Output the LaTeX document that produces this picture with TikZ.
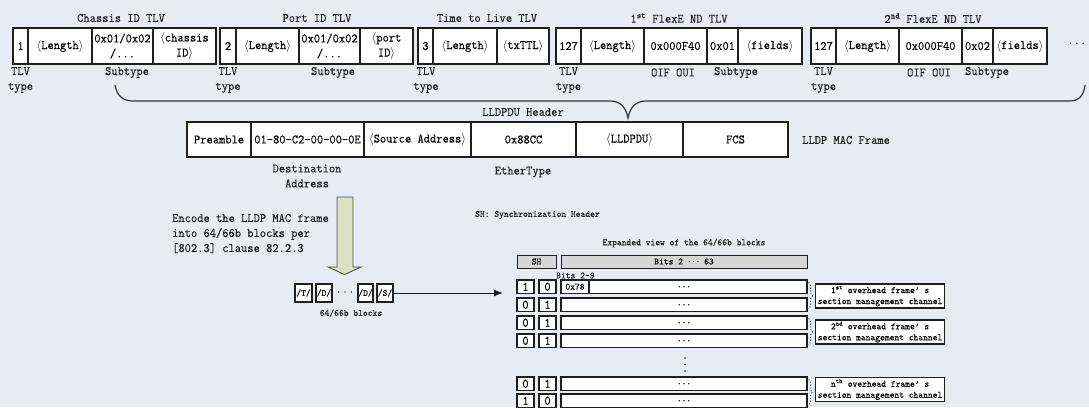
\documentclass[tikz,border=0pt]{standalone}
\usepackage{fontspec}
\setmainfont{Latin Modern Mono}[FakeStretch=0.95,FakeBold=0.25]
\usetikzlibrary{arrows.meta,decorations.pathreplacing}
\definecolor{bg}{RGB}{233,235,242}
\definecolor{ink}{RGB}{30,30,30}
\definecolor{hdr}{RGB}{214,214,214}
\definecolor{olivefill}{RGB}{221,225,196}
\newcommand\szmain{\fontsize{12.8}{15}\selectfont}
\newcommand\szsmall{\fontsize{9.6}{11}\selectfont}
\newcommand\ang[1]{$\langle$#1$\rangle$}
\begin{document}
\begin{tikzpicture}[x=1pt,y=-1pt,
  fld/.style={draw=ink,line width=1.1pt,fill=white,inner sep=0pt,minimum height=36pt,font=\szmain,align=center},
  lbl/.style={inner sep=0pt,font=\szmain,align=center,text=ink},
  slbl/.style={inner sep=0pt,font=\szsmall,align=center,text=ink},
  frm/.style={draw=ink,line width=1.1pt,fill=white,inner sep=0pt,minimum height=35pt,font=\szmain},
  blk/.style={draw=ink,line width=1.1pt,fill=white,inner sep=0pt,minimum height=18pt,font=\szsmall},
  hdrbox/.style={draw=ink,line width=1pt,fill=hdr,inner sep=0pt,minimum height=13pt,font=\szsmall},
  sbit/.style={draw=ink,line width=1.1pt,fill=white,inner sep=0pt,minimum width=17pt,minimum height=13.5pt,font=\szmain},
  body/.style={draw=ink,line width=1.1pt,fill=white,inner sep=0pt,minimum width=246pt,minimum height=13.5pt,font=\szsmall},
  note/.style={draw=ink,line width=1.1pt,fill=white,inner sep=0pt,minimum width=129pt,minimum height=24pt,font=\szsmall,align=center,anchor=west},
  dbrace/.style={draw=ink,dotted,line width=0.9pt,decorate,decoration={brace,amplitude=4pt}}
]
\fill[bg] (0,0) rectangle (1089,407);
\useasboundingbox (0,0) rectangle (1089,407);

% ---- LLDPDU: sequence of TLVs ----
\node[lbl] (tChassis) at (121,18) {Chassis ID TLV};
\node[fld,minimum width=15pt] (c1) at (20.5,46) {1};
\node[fld,minimum width=64pt] (c2) at (60,46) {\ang{Length}};
\node[fld,minimum width=61pt] (c3) at (122.5,46) {0x01/0x02\\/...};
\node[fld,minimum width=63pt] (c4) at (184.5,46) {\ang{chassis\\ID}};
\node[lbl] (c1l) at (20.5,80) {TLV\\type};
\node[lbl] (c3l) at (127,72.5) {Subtype};

\node[lbl] (tPort) at (317,18) {Port ID TLV};
\node[fld,minimum width=16pt] (p1) at (228,46) {2};
\node[fld,minimum width=63pt] (p2) at (267.5,46) {\ang{Length}};
\node[fld,minimum width=61pt] (p3) at (329.5,46) {0x01/0x02\\/...};
\node[fld,minimum width=53pt] (p4) at (386.5,46) {$\langle$port\\ID$\rangle$};
\node[lbl] (p1l) at (228,80) {TLV\\type};
\node[lbl] (p3l) at (333,72.5) {Subtype};

\node[lbl] (tTTL) at (487,18) {Time to Live TLV};
\node[fld,minimum width=15pt] (t1) at (425.5,46) {3};
\node[fld,minimum width=64pt] (t2) at (465,46) {\ang{Length}};
\node[fld,minimum width=52pt] (t3) at (523,46) {\ang{txTTL}};
\node[lbl] (t1l) at (426,80) {TLV\\type};

\node[lbl] (tFlexA) at (679,18) {1\textsuperscript{st} FlexE ND TLV};
\node[fld,minimum width=25pt] (f1) at (568.5,46) {127};
\node[fld,minimum width=63pt] (f2) at (612.5,46) {\ang{Length}};
\node[fld,minimum width=63pt] (f3) at (675.5,46) {0x000F40};
\node[fld,minimum width=31pt] (f4) at (722.5,46) {0x01};
\node[fld,minimum width=64pt] (f5) at (770,46) {\ang{fields}};
\node[lbl] (f1l) at (568.5,80) {TLV\\type};
\node[lbl] (f3l) at (673,72.5) {OIF OUI};
\node[lbl] (f4l) at (736,72.5) {Subtype};

\node[lbl] (tFlexB) at (933,18) {2\textsuperscript{nd} FlexE ND TLV};
\node[fld,minimum width=25pt] (g1) at (823.5,46) {127};
\node[fld,minimum width=63pt] (g2) at (867.5,46) {\ang{Length}};
\node[fld,minimum width=63pt] (g3) at (930.5,46) {0x000F40};
\node[fld,minimum width=31pt] (g4) at (977.5,46) {0x02};
\node[fld,minimum width=54pt] (g5) at (1020,46) {\ang{fields}};
\node[lbl] (g1l) at (823.5,80) {TLV\\type};
\node[lbl] (g3l) at (929,72.5) {OIF OUI};
\node[lbl] (g4l) at (987,72.5) {Subtype};

\node[lbl,font=\fontsize{14}{14}\selectfont] (more) at (1077,44) {$\cdots$};

% ---- brace gathering the TLVs into the LLDPDU ----
\coordinate (brL) at (115,85);
\coordinate (brTip) at (628,118);
\coordinate (brR) at (1085,85);
\draw[ink!90,line width=1.2pt] (brL) .. controls (117,96) and (123,101) .. (133,101)
  -- (610,101) .. controls (620,101) and (626,107) .. (brTip)
  .. controls (630,107) and (636,101) .. (646,101)
  -- (1070,101) .. controls (1079,101) and (1084,95) .. (brR);
\node[lbl] (lldpduHdr) at (523,112) {LLDPDU Header};

% ---- LLDP MAC frame ----
\node[frm,minimum width=64pt] (m1) at (219,139.5) {Preamble};
\node[frm,minimum width=113pt] (m2) at (307.5,139.5) {01-80-C2-00-00-0E};
\node[frm,minimum width=107pt] (m3) at (417.5,139.5) {\ang{Source Address}};
\node[frm,minimum width=105pt] (m4) at (523.5,139.5) {0x88CC};
\node[frm,minimum width=107pt] (m5) at (629.5,139.5) {\ang{LLDPDU}};
\node[frm,minimum width=105pt] (m6) at (735.5,139.5) {FCS};
\node[lbl,anchor=west] (macLbl) at (802,140) {LLDP MAC Frame};
\node[lbl] (m2l) at (307,176) {Destination\\Address};
\node[lbl] (m4l) at (523,172) {EtherType};

% ---- encoding step ----
\draw[draw=ink!80,fill=olivefill,line width=0.9pt,line join=miter]
  (337,197) -- (353,197) -- (353,267) -- (361,267) -- (344.5,274.5) -- (328,267) -- (337,267) -- cycle;
\node[lbl,anchor=west,align=left] (encTxt) at (172,233.5) {Encode the LLDP MAC frame\\into 64/66b blocks per\\{[}802.3{]} clause 82.2.3};

\node[blk,minimum width=17pt] (bT) at (303.5,293) {/T/};
\node[blk,minimum width=16pt] (bD1) at (324,293) {/D/};
\node[lbl] (bDots) at (345,292) {...};
\node[blk,minimum width=15pt] (bD2) at (365.5,293) {/D/};
\node[blk,minimum width=16pt] (bS) at (385,293) {/S/};
\node[slbl] (blkLbl) at (351,313) {64/66b blocks};
\coordinate (expIn) at (503,293);
\draw[ink,line width=1pt,-{Latex[length=9pt,width=7pt]}] (bS.east) -- (expIn);

% ---- expanded view of the blocks ----
\node[slbl,anchor=west] (shNote) at (475,215) {SH: Synchronization Header};
\node[slbl] (expTitle) at (684,243) {Expanded view of the 64/66b blocks};
\node[hdrbox,minimum width=39pt] (shHdr) at (536.5,261.5) {SH};
\node[hdrbox,minimum width=246pt] (bitsHdr) at (684,261.5) {Bits 2 $\cdots$ 63};
\node[slbl,anchor=west] (bits29) at (556,275.5) {Bits 2\char"7E 9};

\foreach \i/\y/\a/\b in {1/286.75/1/0, 2/304.75/0/1, 3/322.75/0/1, 4/340.75/0/1, 5/383.75/0/1, 6/400.75/1/0}{
  \node[sbit] (sa\i) at (525.5,\y) {\a};
  \node[sbit] (sb\i) at (547.5,\y) {\b};
  \node[body] (row\i) at (684,\y) {...};
}
\node[draw=ink,line width=1.1pt,fill=white,inner sep=0pt,minimum width=28pt,minimum height=13.5pt,font=\szsmall,anchor=west] (hdr78) at (row1.west) {0x78};
% vertical ellipsis between the row groups
\foreach \yy in {358,364.5,371}{\fill[ink] (685,\yy) circle (0.9pt);}

% ---- overhead section management channels ----
\draw[dbrace] ([xshift=1pt,yshift=-3pt]row1.north east) -- ([xshift=1pt,yshift=3pt]row2.south east);
\draw[dbrace] ([xshift=1pt,yshift=-3pt]row3.north east) -- ([xshift=1pt,yshift=3pt]row4.south east);
\draw[dbrace] ([xshift=1pt,yshift=-3pt]row5.north east) -- ([xshift=1pt,yshift=3pt]row6.south east);
\node[note] (oh1) at (815,296) {1\textsuperscript{st} overhead frame’ s\\section management channel};
\node[note] (oh2) at (815,332) {2\textsuperscript{nd} overhead frame’ s\\section management channel};
\node[note] (ohn) at (815,389.5) {n\textsuperscript{th} overhead frame’ s\\section management channel};
\end{tikzpicture}
\end{document}
